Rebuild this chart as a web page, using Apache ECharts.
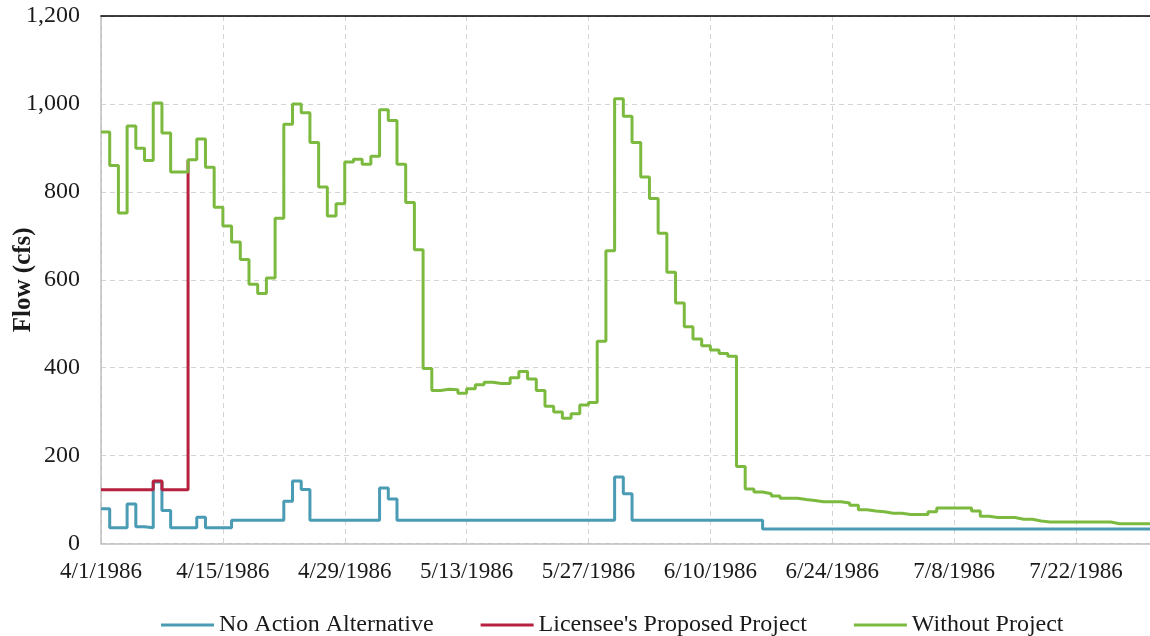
<!DOCTYPE html>
<html><head><meta charset="utf-8">
<script src="https://cdn.jsdelivr.net/npm/echarts@6/dist/echarts.min.js"></script>
<style>html,body{margin:0;padding:0;background:#fff}#c{width:1150px;height:636px}</style>
</head><body><div id="c"></div>
<script>
// Daily flows starting 4/1/1986 (day index 0)
const startYear = 1986, startMonth = 4, startDay = 1;
const xTickStepDays = 14;
const xMaxDays = 120.5;
const yTicks = [0, 200, 400, 600, 800, 1000, 1200];
const seriesNames = ["No Action Alternative", "Licensee's Proposed Project", "Without Project"];

const noAction = [
  79, 36, 36, 90, 38, 36, 140, 75, 36, 36,
  36, 60, 36, 36, 36, 53, 53, 53, 53, 53,
  53, 96, 142, 123, 53, 53, 53, 53, 53, 53,
  53, 53, 126, 101, 53, 53, 53, 53, 53, 53,
  53, 53, 53, 53, 53, 53, 53, 53, 53, 53,
  53, 53, 53, 53, 53, 53, 53, 53, 53, 151,
  113, 53, 53, 53, 53, 53, 53, 53, 53, 53,
  53, 53, 53, 53, 53, 53, 33, 33, 33, 33,
  33, 33, 33, 33, 33, 33, 33, 33, 33, 33,
  33, 33, 33, 33, 33, 33, 33, 33, 33, 33,
  33, 33, 33, 33, 33, 33, 33, 33, 33, 33,
  33, 33, 33, 33, 33, 33, 33, 33, 33, 33,
  33
];

const licensee = [122, 122, 122, 122, 122, 122, 142, 122, 122, 122, 873];

const withoutProject = [
  936, 860, 752, 950, 899, 871, 1002, 934, 845, 845,
  873, 920, 856, 765, 722, 686, 646, 590, 569, 604,
  740, 954, 1000, 980, 912, 811, 745, 773, 868, 874,
  863, 881, 987, 962, 863, 776, 668, 398, 348, 351,
  350, 342, 352, 361, 367, 364, 364, 377, 391, 374,
  348, 312, 299, 285, 295, 315, 321, 460, 666, 1012,
  972, 912, 834, 785, 706, 617, 547, 493, 465, 450,
  440, 432, 426, 175, 124, 117, 113, 108, 103, 103,
  100, 98, 95, 95, 95, 92, 87, 77, 74, 72,
  69, 69, 66, 66, 66, 72, 81, 81, 81, 81,
  74, 62, 59, 59, 59, 55, 55, 51, 49, 49,
  49, 49, 49, 49, 49, 49, 45, 45, 45, 45,
  45
];

const colors = ['#4a9bb4', '#b5213f', '#7cba3f'];
const serif = '"Liberation Serif", "Times New Roman", serif';

function toPairs(arr, extend) {
  const d = arr.map((v, i) => [i, v]);
  if (extend) d.push([arr.length, arr[arr.length - 1]]);
  return d;
}
function dayLabel(v) {
  if (Math.abs(v % xTickStepDays) > 1e-6) return '';
  const d = new Date(startYear, startMonth - 1, startDay + v);
  return (d.getMonth() + 1) + '/' + d.getDate() + '/' + d.getFullYear();
}

const chart = echarts.init(document.getElementById('c'), null, {renderer: 'canvas'});
chart.setOption({
  animation: false,
  backgroundColor: '#fff',
  grid: {left: 101, right: 0, top: 16, bottom: 92.5, containLabel: false, outerBoundsMode: 'none'},
  legend: {
    left: 156, top: 608,
    itemWidth: 53, itemHeight: 12, itemGap: 47,
    icon: 'path://M0,5 L53,5 L53,8 L0,8 Z',
    textStyle: {fontFamily: serif, fontSize: 24, color: '#1a1a1a'},
    data: seriesNames
  },
  xAxis: [{
    type: 'value', min: 0, max: xMaxDays, interval: xTickStepDays,
    axisLine: {show: true, lineStyle: {color: '#bfbfbf', width: 1.5}},
    axisTick: {show: false},
    axisLabel: {formatter: dayLabel, fontFamily: serif, fontSize: 23, color: '#1a1a1a', margin: 17, showMaxLabel: false},
    splitLine: {show: true, lineStyle: {color: '#d4d4d4', type: [5, 4], width: 1}}
  }, {
    type: 'value', position: 'top', min: 0, max: xMaxDays, interval: xTickStepDays,
    axisLine: {show: true, onZero: false, lineStyle: {color: '#000', width: 1.5}},
    axisTick: {show: false}, axisLabel: {show: false}, splitLine: {show: false}
  }],
  yAxis: {
    type: 'value', min: yTicks[0], max: yTicks[yTicks.length - 1], interval: yTicks[1] - yTicks[0],
    name: 'Flow (cfs)', nameLocation: 'middle', nameGap: 65, nameRotate: 90, nameMoveOverlap: false,
    nameTextStyle: {fontFamily: serif, fontSize: 25, fontWeight: 'bold', color: '#1a1a1a'},
    axisLine: {show: true, lineStyle: {color: '#bfbfbf', width: 1.5}},
    axisTick: {show: false},
    axisLabel: {formatter: v => v.toLocaleString('en-US'), fontFamily: serif, fontSize: 24, color: '#1a1a1a', margin: 21},
    splitLine: {show: true, lineStyle: {color: '#d4d4d4', type: [5, 4], width: 1}}
  },
  series: [
    {name: seriesNames[0], type: 'line', step: 'end', symbol: 'none', data: toPairs(noAction, true),
     lineStyle: {color: colors[0], width: 3}, itemStyle: {color: colors[0]}},
    {name: seriesNames[1], type: 'line', step: 'end', symbol: 'none', data: toPairs(licensee, false),
     lineStyle: {color: colors[1], width: 3}, itemStyle: {color: colors[1]}},
    {name: seriesNames[2], type: 'line', step: 'end', symbol: 'none', data: toPairs(withoutProject, true),
     lineStyle: {color: colors[2], width: 3}, itemStyle: {color: colors[2]}}
  ]
});
</script>
</body></html>
